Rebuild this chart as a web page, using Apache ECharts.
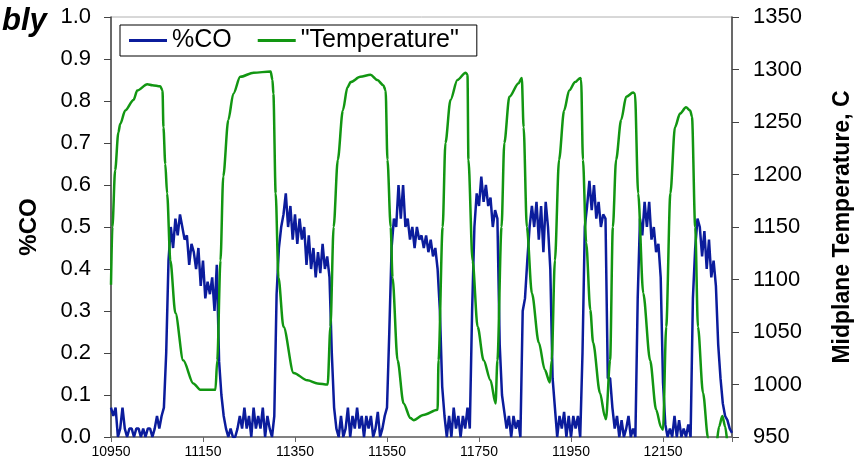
<!DOCTYPE html>
<html>
<head>
<meta charset="utf-8">
<script src="https://cdn.jsdelivr.net/npm/echarts@6/dist/echarts.min.js"></script>
<style>
  html, body { margin: 0; padding: 0; background: #fff; }
  #main { width: 860px; height: 462px; }
</style>
</head>
<body>
<div id="main"></div>
<script>
// time axis starts at 10950, ticks every 200
var timeStart = 10950;
var timeEnd = 12300;
var timeTicks = [10950, 11150, 11350, 11550, 11750, 11950, 12150];

// %CO sampled every 5 time units from 10950 to 12300
var coStep = 5;
var coValues = [
  0.07,0.05,0.07,0,0.02,0.07,0.02,0,0.02,0.02,      // 10950
  0,0.02,0.02,0,0.02,0,0.02,0.02,0,0.02,            // 11000
  0.05,0.02,0.05,0.07,0.2,0.42,0.5,0.45,0.52,0.48,  // 11050
  0.53,0.5,0.47,0.48,0.41,0.46,0.44,0.4,0.45,0.36,  // 11100
  0.42,0.33,0.37,0.34,0.38,0.3,0.41,0.18,0.1,0.05,  // 11150
  0.02,0,0.02,0,0,0.02,0.05,0.02,0.07,0.02,         // 11200
  0.05,0,0.07,0.02,0.05,0.02,0.07,0,0.05,0.02,      // 11250
  0,0.05,0.34,0.45,0.5,0.53,0.58,0.5,0.55,0.47,     // 11300
  0.53,0.46,0.52,0.47,0.5,0.41,0.48,0.4,0.45,0.38,  // 11350
  0.44,0.39,0.46,0.4,0.43,0.38,0.2,0.07,0.02,0,     // 11400
  0.05,0,0.02,0.07,0,0.05,0.02,0.07,0.02,0.05,      // 11450
  0,0.05,0.02,0.05,0,0.02,0.06,0,0.02,0.05,         // 11500
  0.07,0.25,0.45,0.52,0.5,0.6,0.52,0.6,0.5,0.52,    // 11550
  0.47,0.5,0.45,0.5,0.47,0.48,0.45,0.48,0.44,0.47,  // 11600
  0.43,0.45,0.4,0.3,0.12,0.05,0,0.05,0,0.07,        // 11650
  0.02,0.05,0,0.05,0.02,0.07,0.02,0.3,0.5,0.58,     // 11700
  0.55,0.62,0.56,0.6,0.55,0.57,0.5,0.54,0.52,0.22,  // 11750
  0.1,0.06,0.02,0.05,0,0.05,0.02,0.04,0,0.3,        // 11800
  0.33,0.42,0.5,0.55,0.5,0.56,0.47,0.55,0.44,0.56,  // 11850
  0.5,0.4,0.14,0.07,0,0.05,0.02,0.06,0,0.05,        // 11900
  0,0.05,0.02,0.05,0,0.2,0.5,0.55,0.61,0.54,        // 11950
  0.6,0.52,0.56,0.5,0.53,0.52,0.14,0.14,0.07,0.02,  // 12000
  0.05,0,0.04,0,0.02,0.05,0,0.02,0,0.33,            // 12050
  0.52,0.48,0.56,0.5,0.56,0.47,0.5,0.44,0.46,0.38,  // 12100
  0.13,0.03,0,0.02,0,0.05,0,0.04,0,0.02,            // 12150
  0,0.03,0,0.33,0.45,0.52,0.5,0.43,0.49,0.4,        // 12200
  0.47,0.38,0.42,0.36,0.22,0.14,0.08,0.05,0.04,0.02,// 12250
  0.01                                              // 12300
];

// midplane temperature [time, C]
var tempData = [
  [10950,1095],[10953,1150],[10959,1204],[10966,1240],[10970,1248],[10981,1261],
  [10999,1271],[11007,1280],[11029,1286],[11040,1285],[11057,1284],[11062,1280],
  [11064,1245],[11068,1210],[11072,1182],[11079,1118],[11090,1068],[11107,1023],
  [11129,1001],[11144,995],[11177,995],[11181,1023],[11188,1118],[11194,1198],
  [11205,1252],[11216,1277],[11231,1293],[11260,1297],[11297,1298],[11301,1290],
  [11303,1277],[11308,1182],[11314,1102],[11325,1055],[11347,1011],[11377,1004],
  [11399,1001],[11421,1000],[11427,1055],[11434,1150],[11443,1214],[11454,1261],
  [11464,1283],[11471,1288],[11492,1293],[11514,1295],[11529,1290],[11542,1285],
  [11547,1280],[11551,1214],[11558,1150],[11562,1102],[11573,1023],[11586,982],
  [11601,968],[11608,966],[11629,971],[11660,976],[11662,1023],[11671,1150],
  [11677,1230],[11688,1271],[11703,1290],[11721,1297],[11725,1295],[11727,1214],
  [11736,1118],[11747,1055],[11760,1023],[11775,1004],[11786,982],[11790,1023],
  [11799,1150],[11805,1230],[11816,1274],[11836,1287],[11843,1292],[11847,1245],
  [11854,1150],[11865,1087],[11880,1040],[11893,1014],[11904,1002],[11908,1023],
  [11915,1118],[11924,1214],[11935,1261],[11946,1280],[11959,1288],[11970,1292],
  [11972,1290],[11976,1214],[11983,1135],[11992,1071],[11998,1040],[12013,992],
  [12024,969],[12026,967],[12035,1023],[12041,1150],[12048,1214],[12059,1252],
  [12070,1274],[12085,1278],[12089,1277],[12096,1182],[12107,1087],[12122,1023],
  [12135,976],[12146,959],[12150,957],[12157,1055],[12166,1182],[12176,1245],
  [12187,1258],[12200,1264],[12209,1261],[12213,1255],[12220,1150],[12226,1055],
  [12237,992],[12248,949],[12255,925],[12265,940],[12272,960],[12279,970],
  [12285,960],[12292,940],[12300,920]
];

var coData = coValues.map(function (v, i) { return [i * coStep, v]; });
var tempSeries = tempData.map(function (p) { return [p[0] - timeStart, p[1]]; });

var myChart = echarts.init(document.getElementById('main'));
var font = 'Liberation Sans, Arial, sans-serif';
var option = {
  animation: false,
  textStyle: { fontFamily: font },
  title: {
    text: 'bly',
    left: -3,
    top: 1,
    textStyle: { fontSize: 31, fontWeight: 'bold', fontStyle: 'italic', color: '#000', fontFamily: font }
  },
  legend: {
    left: 120,
    top: 25,
    padding: [3, 18, 3, 9],
    itemGap: 26,
    itemWidth: 38,
    itemHeight: 3,
    icon: 'rect',
    borderColor: '#000',
    borderWidth: 1,
    borderRadius: 0,
    textStyle: { fontSize: 25, color: '#000', fontFamily: font, padding: [2, 0, 0, 0] },
    data: ['%CO', '"Temperature"']
  },
  grid: {
    left: 111, right: 128, top: 17, bottom: 25,
    outerBoundsMode: 'none',
    show: true, borderColor: '#b0b0b0', borderWidth: 1
  },
  xAxis: {
    type: 'value',
    min: 0,
    max: timeEnd - timeStart,
    interval: 200,
    splitLine: { show: false },
    axisLine: { lineStyle: { color: '#666', width: 1.5 } },
    axisTick: { length: 5, lineStyle: { color: '#666' } },
    axisLabel: {
      fontSize: 14, color: '#000', margin: 8,
      formatter: function (v) { return timeTicks.indexOf(v + timeStart) >= 0 ? String(v + timeStart) : ''; }
    }
  },
  yAxis: [
    {
      type: 'value',
      min: 0, max: 1, interval: 0.1,
      name: '%CO',
      nameLocation: 'middle',
      nameRotate: 90,
      nameGap: 70,
      nameTextStyle: { fontSize: 24, fontWeight: 'bold', color: '#000', fontFamily: font },
      splitLine: { show: false },
      axisLine: { show: true, lineStyle: { color: '#444', width: 1.5 } },
      axisTick: { show: true, length: 7, lineStyle: { color: '#444' } },
      axisLabel: {
        fontSize: 22, color: '#000', margin: 20,
        formatter: function (v) { return v.toFixed(1); }
      }
    },
    {
      type: 'value',
      position: 'right',
      min: 950, max: 1350, interval: 50,
      name: 'Midplane Temperature, C',
      nameLocation: 'middle',
      nameRotate: 90,
      nameGap: 99,
      nameTextStyle: { fontSize: 23, fontWeight: 'bold', color: '#000', fontFamily: font },
      splitLine: { show: false },
      axisLine: { show: true, lineStyle: { color: '#444', width: 1.5 } },
      axisTick: { show: true, length: 7, lineStyle: { color: '#444' } },
      axisLabel: {
        fontSize: 22, color: '#000', margin: 21,
        formatter: function (v) { return String(v); }
      }
    }
  ],
  series: [
    {
      name: '%CO',
      type: 'line',
      yAxisIndex: 0,
      symbol: 'none',
      clip: true,
      lineStyle: { color: '#0b1c9c', width: 2.5 },
      itemStyle: { color: '#0b1c9c' },
      data: coData
    },
    {
      name: '"Temperature"',
      type: 'line',
      yAxisIndex: 1,
      symbol: 'none',
      clip: true,
      smooth: 0.3,
      smoothMonotone: 'x',
      lineStyle: { color: '#129612', width: 2.5 },
      itemStyle: { color: '#129612' },
      data: tempSeries
    }
  ]
};
myChart.setOption(option);
</script>
</body>
</html>
